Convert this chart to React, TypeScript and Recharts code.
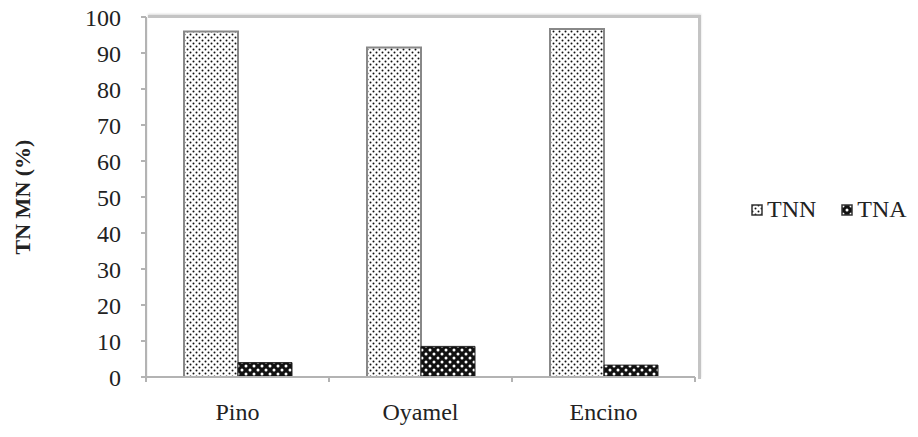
import React from 'react';
import { BarChart, Bar, XAxis, YAxis } from 'recharts';

const forests = ['Pino', 'Oyamel', 'Encino'];
const tnn = [96, 91.5, 96.7];
const tna = [4, 8.5, 3.3];
const yTicks = [0, 10, 20, 30, 40, 50, 60, 70, 80, 90, 100];
const seriesNames = ['TNN', 'TNA'];
const yLabel = 'TN MN (%)';

const data = forests.map((f, i) => ({ name: f, TNN: tnn[i], TNA: tna[i] }));

const FONT = '"Liberation Serif", "Times New Roman", serif';
const AXIS = '#b3b3b3';

function Patterns() {
  return (
    <defs>
      <pattern id="dotsLight" width="6" height="6" patternUnits="userSpaceOnUse">
        <rect width="6" height="6" fill="#ffffff" />
        <circle cx="1.5" cy="1.5" r="1" fill="#111" />
        <circle cx="4.5" cy="4.5" r="1" fill="#111" />
      </pattern>
      <pattern id="dotsDark" width="8" height="8" patternUnits="userSpaceOnUse">
        <rect width="8" height="8" fill="#111" />
        <circle cx="2" cy="2" r="1.5" fill="#ffffff" />
        <circle cx="6" cy="6" r="1.5" fill="#ffffff" />
      </pattern>
    </defs>
  );
}

function XTick(props: any) {
  const { x, y, payload, index } = props;
  const half = payload && payload.offset ? payload.offset : 91.5;
  return (
    <g>
      {index === 0 && <line x1={x - half} x2={x - half} y1={y} y2={y + 5} stroke={AXIS} strokeWidth={2} />}
      <line x1={x + half} x2={x + half} y1={y} y2={y + 5} stroke={AXIS} strokeWidth={2} />
      <text x={x} y={y + 43} textAnchor="middle" fontFamily={FONT} fontSize={24} fill="#222">
        {payload.value}
      </text>
    </g>
  );
}

function LegendIcon({ id }: { id: string }) {
  return (
    <svg width={12} height={12} style={{ display: 'block' }}>
      <Patterns />
      <rect x={1} y={1} width={10} height={10} fill={`url(#${id})`} stroke="#333" strokeWidth={1.5} />
    </svg>
  );
}

export default function App() {
  return (
    <div style={{ position: 'absolute', left: 0, top: 0, width: 918, height: 437, background: '#fff' }}>
      <div
        style={{
          position: 'absolute',
          left: 148,
          top: 15,
          width: 550,
          height: 361,
          borderTop: '3px solid #c4c4c4',
          borderRight: '3px solid #c4c4c4',
          boxShadow: '0 -1px 2px rgba(0,0,0,0.15)',
        }}
      />
      <div style={{ position: 'absolute', left: 0, top: 0 }}>
        <BarChart
          width={918}
          height={437}
          data={data}
          margin={{ top: 17, right: 223, left: 0, bottom: 0 }}
          barGap={0}
          barSize={54}
        >
          <Patterns />
          <YAxis
            width={146}
            domain={[0, 100]}
            ticks={yTicks}
            interval={0}
            tickSize={5}
            tickMargin={20}
            axisLine={{ stroke: AXIS, strokeWidth: 2 }}
            tickLine={{ stroke: AXIS, strokeWidth: 2 }}
            tick={{ fontFamily: FONT, fontSize: 24, fill: '#222' }}
            label={{
              value: yLabel,
              angle: -90,
              position: 'insideLeft',
              offset: 22,
              style: { fontFamily: FONT, fontSize: 22, fontWeight: 'bold', fill: '#222', textAnchor: 'middle' },
            }}
          />
          <XAxis
            dataKey="name"
            height={60}
            tickSize={0}
            tickMargin={0}
            axisLine={{ stroke: AXIS, strokeWidth: 2 }}
            tickLine={false}
            tick={<XTick />}
            interval={0}
          />
          <Bar dataKey="TNN" fill="url(#dotsLight)" stroke="#888" strokeWidth={2} isAnimationActive={false} />
          <Bar dataKey="TNA" fill="url(#dotsDark)" stroke="#222" strokeWidth={1} isAnimationActive={false} />
        </BarChart>
      </div>
      <div
        style={{
          position: 'absolute',
          left: 751,
          top: 196,
          display: 'flex',
          alignItems: 'center',
          fontFamily: FONT,
          fontSize: 24,
          color: '#222',
        }}
      >
        {seriesNames.map((n, i) => (
          <div key={n} style={{ display: 'flex', alignItems: 'center', marginRight: i === 0 ? 25 : 0 }}>
            <LegendIcon id={i === 0 ? 'dotsLight' : 'dotsDark'} />
            <span style={{ marginLeft: 4 }}>{n}</span>
          </div>
        ))}
      </div>
    </div>
  );
}
